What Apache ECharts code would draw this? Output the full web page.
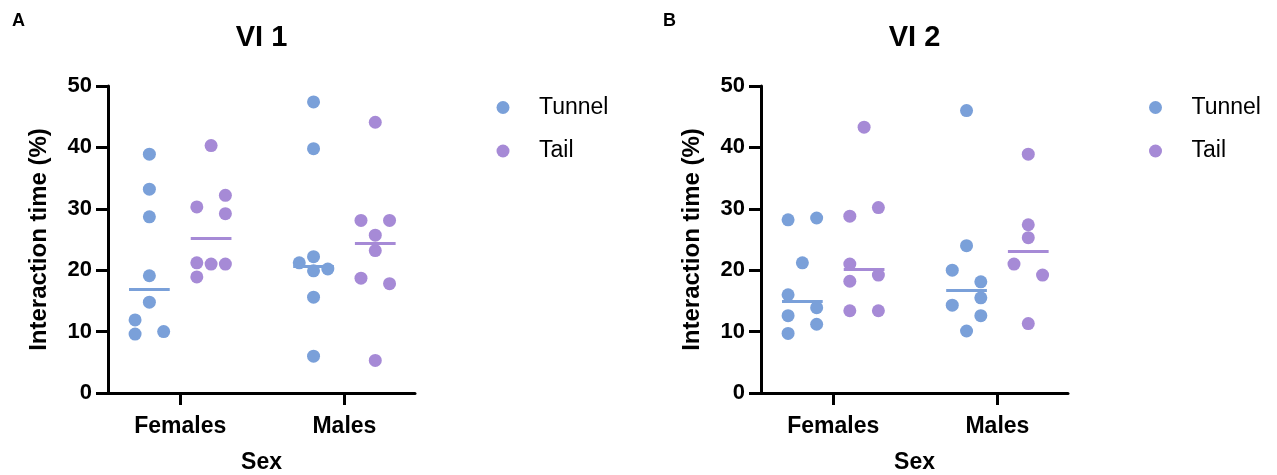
<!DOCTYPE html>
<html>
<head>
<meta charset="utf-8">
<script src="https://cdn.jsdelivr.net/npm/echarts@6/dist/echarts.min.js"></script>
<style>
  html, body { margin: 0; padding: 0; background: #fff; }
  #chart { width: 1277px; height: 475px; }
</style>
</head>
<body>
<div id="chart"></div>
<script>
// ---------- data ----------
const categories = ['Females', 'Males'];
const groups = ['Tunnel', 'Tail'];
const yTicks = [0, 10, 20, 30, 40, 50];
const panelTitles = ['VI 1', 'VI 2'];
const panelLetters = ['A', 'B'];

// VI 1
const vi1TunnelFemales = [38.9, 33.2, 28.7, 19.1, 14.8, 11.9, 9.6, 10.0];
const vi1TunnelMales   = [47.4, 39.8, 22.2, 21.2, 20.2, 19.9, 15.6, 6.0];
const vi1TailFemales   = [40.3, 30.3, 32.2, 29.2, 21.2, 21.0, 21.0, 18.9];
const vi1TailMales     = [44.1, 28.1, 28.1, 25.7, 23.2, 18.7, 17.8, 5.3];
// VI 2
const vi2TunnelFemales = [28.2, 28.5, 21.2, 16.0, 13.9, 12.6, 11.2, 9.7];
const vi2TunnelMales   = [46.0, 24.0, 20.0, 18.1, 15.5, 14.3, 12.6, 10.1];
const vi2TailFemales   = [43.3, 30.2, 28.8, 21.0, 19.2, 18.2, 13.4, 13.4];
const vi2TailMales     = [38.9, 27.4, 25.3, 21.0, 19.2, 11.3];

// jitter column of each point (-1 left, 0 centre, 1 right), as seen in the scatter
const vi1TunnelFemalesCol = [0, 0, 0, 0, 0, -1, -1, 1];
const vi1TunnelMalesCol   = [0, 0, 0, -1, 1, 0, 0, 0];
const vi1TailFemalesCol   = [0, -1, 1, 1, -1, 0, 1, -1];
const vi1TailMalesCol     = [0, -1, 1, 0, 0, -1, 1, 0];
const vi2TunnelFemalesCol = [-1, 1, 0, -1, 1, -1, 1, -1];
const vi2TunnelMalesCol   = [0, 0, -1, 1, 1, -1, 1, 0];
const vi2TailFemalesCol   = [0, 1, -1, -1, 1, -1, -1, 1];
const vi2TailMalesCol     = [0, 0, 0, -1, 1, 0];

// ---------- styling ----------
const FONT = 'Liberation Sans, Arial, Helvetica, sans-serif';
const colors = { Tunnel: '#7aa0d9', Tail: '#a68ad6' };
const groupOffset = { Tunnel: -0.188, Tail: 0.188 };
const colStep = 0.087;
const medianHalf = 0.124;

function median(arr) {
  const s = arr.slice().sort((a, b) => a - b);
  const n = s.length;
  return n % 2 ? s[(n - 1) / 2] : (s[n / 2 - 1] + s[n / 2]) / 2;
}

const panels = [
  { Tunnel: [[vi1TunnelFemales, vi1TunnelFemalesCol], [vi1TunnelMales, vi1TunnelMalesCol]],
    Tail:   [[vi1TailFemales, vi1TailFemalesCol], [vi1TailMales, vi1TailMalesCol]] },
  { Tunnel: [[vi2TunnelFemales, vi2TunnelFemalesCol], [vi2TunnelMales, vi2TunnelMalesCol]],
    Tail:   [[vi2TailFemales, vi2TailFemalesCol], [vi2TailMales, vi2TailMalesCol]] }
];

const gridLeft = [108, 761];
const gridWidth = 307;
const legendLeft = [491.5, 1144];

const grid = [], xAxis = [], yAxis = [], series = [], legend = [];

panels.forEach((panel, p) => {
  grid.push({ left: gridLeft[p], width: gridWidth, top: 86, height: 307,
    containLabel: false, outerBoundsMode: 'none' });
  xAxis.push({
    type: 'value', gridIndex: p, min: -0.44, max: 1.43,
    axisLine: { show: true, onZero: false, lineStyle: { color: '#000', width: 3 } },
    axisTick: { show: true, customValues: [0, 1], length: 12, lineStyle: { color: '#000', width: 3 } },
    axisLabel: {
      show: true, customValues: [0, 1], margin: 22,
      formatter: v => categories[Math.round(v)] || '',
      color: '#000', fontFamily: FONT, fontWeight: 'bold', fontSize: 23
    },
    splitLine: { show: false },
    name: 'Sex', nameLocation: 'middle', nameGap: 58,
    nameTextStyle: { color: '#000', fontFamily: FONT, fontWeight: 'bold', fontSize: 23 }
  });
  yAxis.push({
    type: 'value', gridIndex: p, min: 0, max: 50, interval: 10,
    axisLine: { show: true, onZero: false, lineStyle: { color: '#000', width: 3 } },
    axisTick: { show: true, length: 12, lineStyle: { color: '#000', width: 3 } },
    axisLabel: {
      margin: 16, color: '#000', fontFamily: FONT, fontWeight: 'bold', fontSize: 22,
      formatter: v => (yTicks.indexOf(v) >= 0 ? String(v) : '')
    },
    splitLine: { show: false },
    name: 'Interaction time (%)', nameLocation: 'middle', nameGap: 57,
    nameTextStyle: { color: '#000', fontFamily: FONT, fontWeight: 'bold', fontSize: 24 }
  });

  groups.forEach(g => {
    const data = [];
    const lines = [];
    panel[g].forEach(([vals, cols], c) => {
      const cx = c + groupOffset[g];
      vals.forEach((v, i) => data.push([cx + cols[i] * colStep, v]));
      const m = median(vals);
      lines.push([{ coord: [cx - medianHalf, m] }, { coord: [cx + medianHalf, m] }]);
    });
    series.push({
      name: g, type: 'scatter', xAxisIndex: p, yAxisIndex: p,
      symbol: 'circle', symbolSize: 13,
      itemStyle: { color: colors[g], opacity: 1 },
      data: data,
      z: 3,
      markLine: {
        silent: true, symbol: ['none', 'none'], animation: false,
        label: { show: false },
        lineStyle: { color: colors[g], width: 3, type: 'solid' },
        emphasis: { disabled: true },
        data: lines
      }
    });
  });

  legend.push({
    data: groups.map(g => ({ name: g, icon: 'circle' })),
    orient: 'vertical',
    left: legendLeft[p], top: 91,
    itemWidth: 62, itemHeight: 13, itemGap: 20.5,
    selectedMode: false,
    textStyle: { color: '#000', fontFamily: FONT, fontSize: 23, lineHeight: 23 }
  });
});

const option = {
  animation: false,
  backgroundColor: '#fff',
  grid, xAxis, yAxis, series, legend,
  graphic: [
    { type: 'text', x: 12, y: 21.5, style: { text: panelLetters[0], fill: '#000', font: 'bold 18px ' + FONT, textVerticalAlign: 'middle' } },
    { type: 'text', x: 663, y: 21.5, style: { text: panelLetters[1], fill: '#000', font: 'bold 18px ' + FONT, textVerticalAlign: 'middle' } },
    { type: 'text', x: gridLeft[0] + gridWidth / 2, y: 37.5, style: { text: panelTitles[0], fill: '#000', font: 'bold 29px ' + FONT, textAlign: 'center', textVerticalAlign: 'middle' } },
    { type: 'text', x: gridLeft[1] + gridWidth / 2, y: 37.5, style: { text: panelTitles[1], fill: '#000', font: 'bold 29px ' + FONT, textAlign: 'center', textVerticalAlign: 'middle' } }
  ]
};

const chart = echarts.init(document.getElementById('chart'), null, { renderer: 'canvas' });
chart.setOption(option);
</script>
</body>
</html>
